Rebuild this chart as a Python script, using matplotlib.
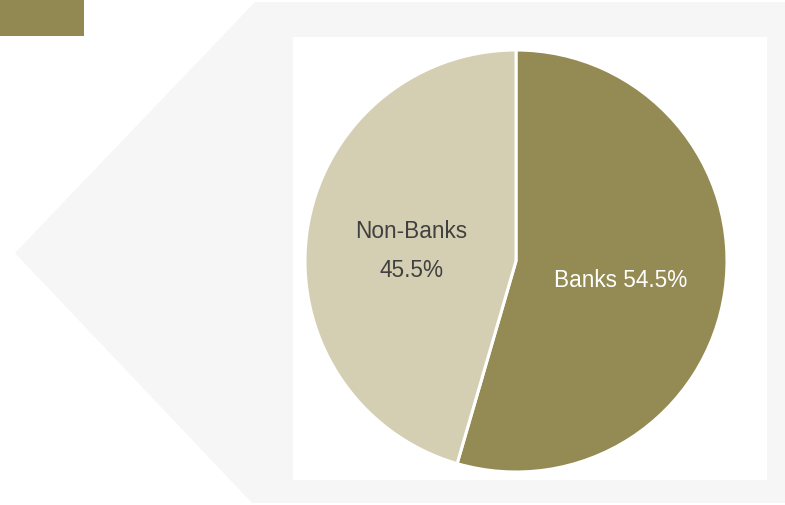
import matplotlib.pyplot as plt
from matplotlib.patches import Polygon, Rectangle

plt.rcParams['font.family'] = ['Liberation Sans', 'DejaVu Sans']

# pie data
segments = ["Banks", "Non-Banks"]
shares = [54.5, 45.5]
seg_colors = ["#948a53", "#d4cfb3"]
seg_text_colors = ["white", "#404040"]
seg_labels = ["Banks %.1f%%" % shares[0], "Non-Banks\n%.1f%%" % shares[1]]

W, H = 785, 505
fig = plt.figure(figsize=(W / 100, H / 100), dpi=100)
ax = fig.add_axes([0, 0, 1, 1])

# background arrow panel (pixel coords, y measured from bottom)
panel = Polygon([(15, H - 253), (255, H - 2), (W, H - 2), (W, H - 503), (252, H - 503)],
                closed=True, facecolor="#f6f6f6", edgecolor="none", zorder=0)
ax.add_patch(panel)
ax.add_patch(Rectangle((0, H - 36), 84, 36, facecolor="#928851", edgecolor="none", zorder=1))
ax.add_patch(Rectangle((293, H - 480), 474, 443, facecolor="white", edgecolor="none", zorder=1))

wedges, texts = ax.pie(shares, labels=seg_labels, colors=seg_colors,
                       startangle=90, counterclock=False,
                       center=(516, H - 261), radius=211, labeldistance=0.5,
                       wedgeprops=dict(edgecolor="white", linewidth=2.2),
                       textprops=dict(fontsize=16.3, ha="center", va="center",
                                      linespacing=1.85))
for w in wedges:
    w.set_zorder(2)
for t, c in zip(texts, seg_text_colors):
    t.set_color(c)
    t.set_zorder(3)
    # nudge labels slightly downward
    x, y = t.get_position()
    t.set_position((x, y - 5))

ax.set_xlim(0, W)
ax.set_ylim(0, H)
ax.set_aspect("equal")
ax.axis("off")

fig.savefig("out.png", dpi=100, facecolor="white")
